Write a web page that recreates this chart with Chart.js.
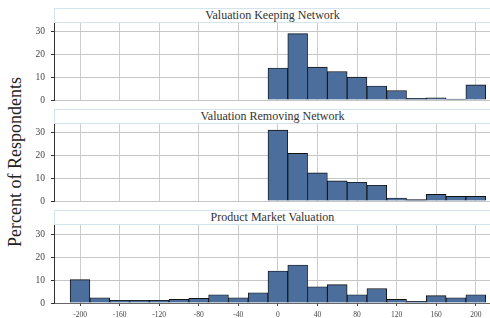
<!DOCTYPE html>
<html>
<head>
<meta charset="utf-8">
<script src="https://cdn.jsdelivr.net/npm/chart.js@4.4.1/dist/chart.umd.min.js"></script>
<style>
  body { margin: 0; background: #fff; width: 490px; height: 318px; overflow: hidden; position: relative; }
  canvas { position: absolute; left: 0; }
  .strip {
    position: absolute; left: 54px; width: 437px; height: 15px;
    box-sizing: border-box; border: 1px solid #d3e4ec; background: #fff;
    font: 12px "Liberation Serif", serif; color: #333;
    text-align: center; line-height: 13px; z-index: 2;
  }
  #yTitle {
    position: absolute; left: 15px; top: 162px; width: 240px; height: 22px;
    margin-left: -120px; margin-top: -11px; transform: rotate(-90deg);
    font: 18px "Liberation Serif", serif; color: #222;
    text-align: center; line-height: 22px; white-space: nowrap;
  }
</style>
</head>
<body>
<div id="yTitle">Percent of Respondents</div>
<div class="strip" style="top:8px">Valuation Keeping Network</div>
<canvas id="keepChart" width="490" height="102" style="top:10px"></canvas>
<div class="strip" style="top:109px">Valuation Removing Network</div>
<canvas id="removeChart" width="490" height="102" style="top:111px"></canvas>
<div class="strip" style="top:210px">Product Market Valuation</div>
<canvas id="marketChart" width="490" height="105" style="top:213px"></canvas>

<script>
// Data

const keepBins = [0, 20, 40, 60, 80, 100, 120, 140, 160, 180, 200]
const keepValues = [14.0, 29.0, 14.4, 12.4, 10.0, 6.1, 4.1, 0.7, 1.0, 0.4, 6.6]

const removeBins = [0, 20, 40, 60, 80, 100, 120, 140, 160, 180, 200]
const removeValues = [31.0, 20.8, 12.3, 8.8, 8.2, 6.9, 1.3, 0.6, 2.9, 2.0, 2.0]

const marketBins = [-200, -180, -160, -140, -120, -100, -80, -60, -40, -20, 0, 20, 40, 60, 80, 100, 120, 140, 160, 180, 200]
const marketValues = [10.2, 2.3, 1.2, 1.2, 1.2, 1.6, 2.0, 3.6, 2.3, 4.5, 14.0, 16.6, 7.1, 8.0, 3.6, 6.3, 1.6, 0.7, 3.2, 2.3, 3.6]

const xTicks = [-200, -160, -120, -80, -40, 0, 40, 80, 120, 160, 200]
const yTicks = [0, 10, 20, 30]

Chart.defaults.font.family = "'Liberation Serif', serif"
Chart.defaults.color = "#444"

// Panel builder

function makePanel(id, bins, values, showX) {
  const ctx = document.getElementById(id)
  return new Chart(ctx, {
    type: "bar",
    data: {
      datasets: [
        {
          data: bins.map((b, i) => ({ x: b, y: values[i] })),
          backgroundColor: "#4b6e9d",
          borderColor: "#111",
          borderWidth: 0.9,
          categoryPercentage: 1,
          barPercentage: 1,
        },
      ],
    },
    options: {
      responsive: false,
      animation: false,
      devicePixelRatio: 1,
      layout: { padding: { top: 12, bottom: showX ? 0 : 12, left: 0, right: 0 } },
      plugins: { legend: { display: false }, tooltip: { enabled: false } },
      scales: {
        x: {
          type: "linear",
          min: -226.3,
          max: 214.4,
          offset: false,
          afterBuildTicks: (s) => { s.ticks = xTicks.map((v) => ({ value: v })) },
          afterFit: (s) => { s.height = showX ? 15 : 0 },
          ticks: { display: showX, padding: 5, font: { size: 7.5 }, color: "#444", maxRotation: 0 },
          grid: { offset: false, color: "#cccccc", drawTicks: showX, tickLength: 3, tickColor: "#444" },
          border: { display: showX, color: "#666", width: 1 },
        },
        y: {
          min: 0,
          max: 34.1,
          afterBuildTicks: (s) => { s.ticks = yTicks.map((v) => ({ value: v })) },
          afterFit: (s) => { s.width = 54 },
          ticks: { padding: 6, font: { size: 9.5 }, color: "#444" },
          grid: { color: "#c6c6c6", tickLength: 3, tickColor: "#333" },
          border: { color: "#333", width: 1 },
        },
      },
    },
  })
}

// Panels

makePanel("keepChart", keepBins, keepValues, false)
makePanel("removeChart", removeBins, removeValues, false)
makePanel("marketChart", marketBins, marketValues, true)
</script>
</body>
</html>
